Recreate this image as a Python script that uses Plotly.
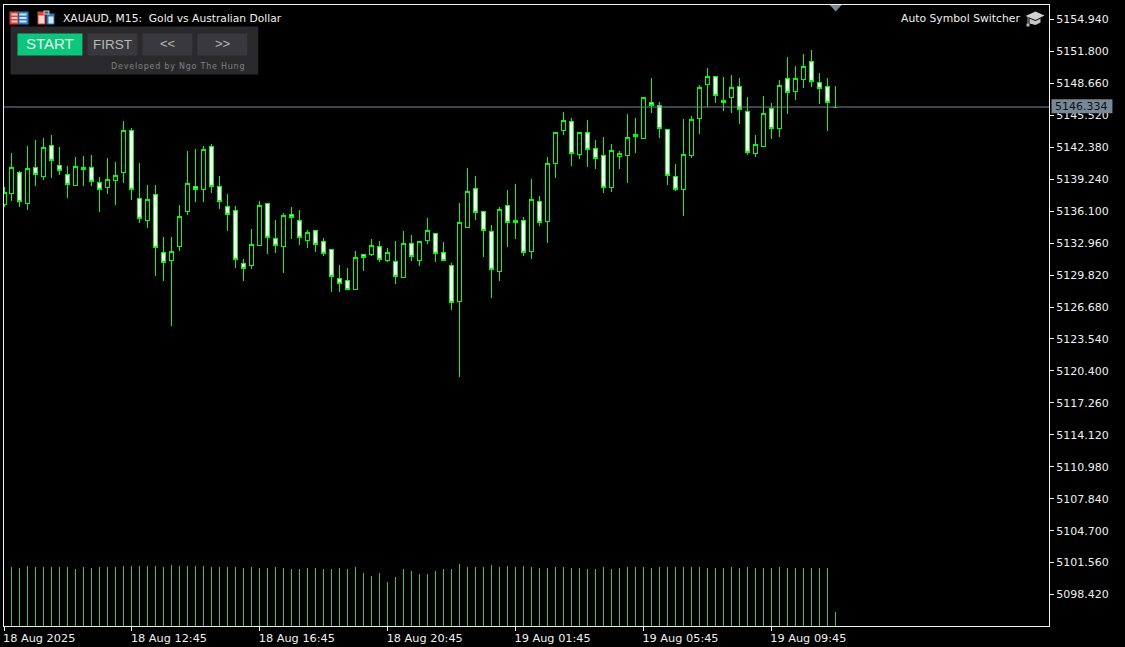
import plotly.graph_objects as go

W, H = 1125, 647
L, R, T, B = 3.5, 1049.5, 4.5, 626.5

opens = [5136.74,5137.79,5139.94,5136.87,5140.43,5139.55,5142.59,5140.63,5139.75,5138.64,
5140.37,5140.43,5138.96,5138.44,5139.13,5139.85,5144.06,5137.39,5135.20,5137.69,
5132.00,5131.28,5132.65,5136.09,5138.57,5138.18,5142.49,5138.57,5136.51,5136.12,
5130.91,5130.75,5132.75,5136.90,5133.46,5132.65,5135.82,5135.23,5133.24,5134.15,
5133.07,5132.29,5129.44,5129.25,5128.43,5131.80,5131.80,5132.58,5131.27,5131.11,
5129.61,5132.88,5131.27,5133.24,5133.86,5131.99,5130.72,5127.25,5134.51,5138.37,
5136.02,5134.06,5130.20,5136.61,5135.23,5135.23,5132.16,5137.00,5135.10,5140.79,
5144.03,5144.94,5141.67,5143.87,5142.30,5141.61,5138.44,5141.48,5141.58,5143.67,
5143.24,5146.81,5146.52,5144.16,5139.46,5138.25,5141.55,5145.21,5148.55,5149.36,
5146.94,5147.27,5148.38,5145.93,5141.78,5142.46,5146.22,5144.23,5149.17,5147.86,
5149.04,5150.84,5148.78,5148.38,5146.334]
highs = [5138.44,5141.81,5140.07,5142.53,5143.12,5143.28,5143.61,5142.40,5140.53,5141.42,
5141.51,5141.64,5139.49,5141.35,5140.96,5144.98,5144.29,5140.86,5138.70,5138.70,
5133.60,5133.60,5136.74,5142.04,5142.23,5142.53,5142.72,5139.58,5137.82,5136.64,
5131.44,5134.38,5137.13,5136.90,5135.26,5135.88,5136.54,5136.24,5134.25,5134.25,
5133.50,5132.29,5130.85,5130.55,5132.22,5131.89,5133.37,5133.20,5132.48,5133.20,
5134.18,5133.79,5133.07,5135.46,5133.99,5133.10,5131.04,5136.93,5140.33,5139.58,
5136.15,5134.77,5136.54,5138.21,5138.80,5135.56,5139.29,5137.62,5141.45,5143.87,
5145.86,5145.27,5143.87,5145.08,5143.11,5143.41,5142.72,5142.03,5145.66,5145.27,
5147.30,5149.20,5146.85,5144.16,5140.76,5145.18,5145.47,5148.51,5150.18,5149.36,
5149.30,5149.49,5149.20,5147.34,5143.61,5147.43,5146.75,5149.00,5151.26,5150.38,
5151.55,5151.95,5149.69,5149.20,5148.42]
lows = [5136.54,5137.13,5136.54,5136.25,5138.60,5139.19,5139.39,5139.68,5137.43,5138.64,
5138.60,5138.60,5136.05,5137.82,5136.74,5138.90,5137.23,5134.97,5134.48,5129.77,
5129.28,5124.77,5132.23,5135.76,5137.03,5137.03,5137.92,5136.35,5134.19,5130.56,
5129.28,5130.46,5132.75,5131.93,5132.03,5130.06,5133.40,5132.81,5132.52,5132.12,
5131.73,5128.20,5128.20,5128.43,5128.43,5130.26,5131.73,5131.14,5131.14,5128.98,
5129.61,5131.24,5130.75,5132.84,5131.14,5131.18,5126.43,5119.76,5134.51,5135.27,
5131.57,5127.52,5129.28,5132.62,5133.40,5131.73,5131.44,5134.68,5133.01,5139.39,
5143.60,5140.56,5141.25,5140.46,5140.27,5137.91,5138.01,5140.27,5138.89,5141.84,
5143.24,5145.77,5143.31,5138.70,5138.11,5135.66,5141.35,5143.71,5146.32,5146.75,
5145.96,5145.77,5144.69,5141.65,5141.45,5142.46,5143.22,5143.41,5145.67,5147.04,
5148.22,5148.32,5146.65,5144.00,5146.334]
closes = [5137.92,5140.43,5137.07,5140.34,5139.72,5142.40,5141.09,5140.11,5138.73,5140.53,
5140.17,5139.03,5138.24,5139.26,5139.65,5144.06,5138.24,5135.40,5137.20,5132.55,
5131.08,5132.10,5135.53,5138.77,5138.24,5142.20,5138.54,5137.07,5135.79,5131.38,
5130.49,5132.78,5136.70,5133.53,5132.75,5135.72,5135.49,5133.53,5133.96,5132.84,
5131.96,5129.70,5129.02,5128.43,5131.50,5131.57,5132.68,5131.37,5131.99,5129.70,
5132.97,5131.67,5133.07,5134.15,5131.96,5131.27,5127.15,5135.03,5138.08,5135.98,
5134.22,5130.39,5136.31,5135.00,5135.00,5132.06,5137.29,5135.00,5140.82,5143.87,
5145.04,5141.77,5143.87,5142.16,5141.28,5138.44,5142.10,5141.81,5143.37,5143.44,
5147.30,5146.52,5144.23,5139.62,5138.25,5141.71,5145.15,5148.28,5149.36,5147.47,
5146.75,5148.28,5146.09,5141.88,5142.69,5145.73,5144.23,5148.48,5147.76,5149.17,
5150.34,5148.84,5148.15,5146.78,5146.334]
volumes = [0,593,583,603,593,593,593,593,593,573,593,583,593,593,593,603,603,603,603,603,
593,613,603,603,603,603,593,593,593,593,583,593,583,583,593,583,573,573,583,583,
573,573,583,573,593,533,503,533,443,493,573,553,523,523,553,
573,573,623,593,593,593,613,593,603,593,603,593,583,583,593,593,583,583,573,573,
593,573,583,593,593,593,583,593,593,593,593,593,593,583,583,583,593,583,593,583,
583,583,593,583,583,583,583,583,583,143]

price_ticks = [5154.94,5151.80,5148.66,5145.52,5142.38,5139.24,5136.10,5132.96,5129.82,5126.68,
               5123.54,5120.40,5117.26,5114.12,5110.98,5107.84,5104.70,5101.56,5098.42]
time_ticks = [0,16,32,48,64,80,96]
time_labels = ["18 Aug 2025","18 Aug 12:45","18 Aug 16:45","18 Aug 20:45",
               "19 Aug 01:45","19 Aug 05:45","19 Aug 09:45"]
current_price = 5146.334
price_top, price_bottom = 5156.36, 5095.33
bar_span = (R - L) / 8

FONT = "DejaVu Sans"
WHITE = "#f0f0f0"
bars = list(range(len(opens)))

def px(x): return (x - L) / (R - L)
def py(y): return 1 - (y - T) / (B - T)

fig = go.Figure()
vx, vy = [], []
for b, v in zip(bars, volumes):
    vx += [b, b, None]
    vy += [0, v, None]
fig.add_trace(go.Scatter(x=vx, y=vy, yaxis="y2", mode="lines",
                         line=dict(color="#32CD32", width=1), showlegend=False, hoverinfo="skip"))
fig.add_trace(go.Candlestick(x=bars, open=opens, high=highs, low=lows, close=closes,
    increasing=dict(line=dict(color="#00FF00", width=1), fillcolor="#000000"),
    decreasing=dict(line=dict(color="#00FF00", width=1), fillcolor="#FFFFFF"),
    whiskerwidth=0, showlegend=False))

shapes, ann = [], []
def rect(x0, y0, x1, y1, color):
    shapes.append(dict(type="rect", xref="paper", yref="paper", x0=px(x0), x1=px(x1),
                       y0=py(y1), y1=py(y0), fillcolor=color, line=dict(width=0), layer="above"))
def poly(points, color):
    d = "M" + " L".join(f"{px(a):.5f},{py(b):.5f}" for a, b in points) + " Z"
    shapes.append(dict(type="path", xref="paper", yref="paper", path=d, fillcolor=color,
                       line=dict(width=0), layer="above"))
def text(x, y, s, size, color, anchor="left", font=FONT):
    ann.append(dict(xref="paper", yref="paper", x=px(x), y=py(y), text=s, showarrow=False,
                    xanchor=anchor, yanchor="middle", borderpad=0,
                    font=dict(family=font, size=size, color=color)))

# current price line
shapes.append(dict(type="line", xref="paper", yref="y", x0=0, x1=1,
                   y0=current_price, y1=current_price,
                   line=dict(color="#778899", width=1), layer="above"))
# price label
rect(1052, 99, 1113, 113, "#778899")
text(1082.5, 106, f"{current_price:.3f}", 11, "#111111", "center")

# panel and buttons
rect(10, 26, 258, 74, "#2a2a2c")
rect(17, 33, 82, 55, "#0CC67C")
rect(87, 33, 137, 55, "#38383D")
rect(142, 33, 192, 55, "#38383D")
rect(197, 33, 247, 55, "#38383D")
text(49.5, 43.5, "START", 15, "#e4f5ec", "center", "Liberation Sans")
text(112, 44, "FIRST", 13.5, "#b8b8b8", "center", "Liberation Sans")
text(167, 43, "&lt;&lt;", 13, "#b8b8b8", "center", "Liberation Sans")
text(222, 43, "&gt;&gt;", 13, "#b8b8b8", "center", "Liberation Sans")
text(110, 66, "\u200a".join("Developed").replace("", "") + "\u2002" + "\u200a".join("by") + "\u2002"
     + "\u200a".join("Ngo") + "\u2002" + "\u200a".join("The") + "\u2002" + "\u200a".join("Hung"), 8, "#808080")

# title and switcher text
text(62, 18.5, "XAUAUD, M15:  Gold vs Australian Dollar", 10.7, WHITE)
text(1021.5, 18.5, "Auto Symbol Switcher", 10.8, WHITE, "right")

# title icons
rect(9, 11, 18, 24, "#d8413a")
rect(18, 11, 28, 24, "#2f7fc0")
rect(11, 13, 17, 15, "#f9d0cc"); rect(11, 16.5, 17, 18.5, "#f9d0cc"); rect(11, 20, 17, 22, "#f9d0cc")
rect(19, 13, 26, 15, "#cfe6f7"); rect(19, 16.5, 26, 18.5, "#cfe6f7"); rect(19, 20, 26, 22, "#cfe6f7")
rect(37, 11, 45, 24, "#d8413a")
rect(38, 15, 44, 23, "#fbd5d0")
rect(46, 13, 54, 24, "#2f7fc0")
rect(48, 16, 53, 23, "#d3e9f9")
rect(43, 10, 49, 14, "#cfcfcf")
rect(44, 11, 48, 13, "#555555")

# graduation cap
poly([(1026, 15.5), (1036, 11), (1045, 15), (1036, 19.5)], "#d0d0d0")
poly([(1030, 18), (1036, 20.5), (1041, 18), (1041, 22), (1036, 24.5), (1030, 23)], "#c4c4c4")
rect(1028, 16, 1029, 23, "#a8a8a8")
rect(1027, 23, 1030, 26, "#b8b8b8")

# shift marker
poly([(830, 4.5), (842, 4.5), (836, 11)], "#778899")

fig.update_layout(
    width=W, height=H, autosize=False,
    margin=dict(l=L, r=W - R, t=T, b=H - B, pad=0),
    paper_bgcolor="#000000", plot_bgcolor="#000000",
    font=dict(family=FONT, size=11, color=WHITE),
    showlegend=False, boxgap=0.2929, boxgroupgap=0.2929,
    shapes=shapes, annotations=ann,
    xaxis=dict(range=[0, bar_span], rangeslider=dict(visible=False), showgrid=False, zeroline=False,
               tickmode="array", tickvals=time_ticks, ticktext=time_labels,
               ticks="outside", ticklen=4, tickcolor=WHITE, tickwidth=1,
               ticklabelposition="outside right", ticklabelstandoff=1, ticklabelshift=-2,
               ticklabeloverflow="allow",
               showline=True, linecolor=WHITE, linewidth=1, mirror=True,
               tickfont=dict(family=FONT, size=11.3, color=WHITE)),
    yaxis=dict(range=[price_bottom, price_top], side="right", showgrid=False, zeroline=False,
               tickmode="array", tickvals=price_ticks, tickformat=".3f",
               ticks="outside", ticklen=4, tickcolor=WHITE, tickwidth=1,
               showline=True, linecolor=WHITE, linewidth=1, mirror=True,
               tickfont=dict(family=FONT, size=11, color=WHITE)),
    yaxis2=dict(range=[0, (B - T) * 10], overlaying="y", visible=False, fixedrange=True),
)

css = ".boxlayer path,.scatterlayer path{shape-rendering:crispEdges}"
fig.write_html("out.html", config=dict(displayModeBar=False),
               post_script=("document.body.style.margin='0';document.body.style.background='#000';"
                            "document.body.style.overflow='hidden';"
                            "var s=document.createElement('style');s.textContent='" + css + "';"
                            "document.head.appendChild(s);"))
